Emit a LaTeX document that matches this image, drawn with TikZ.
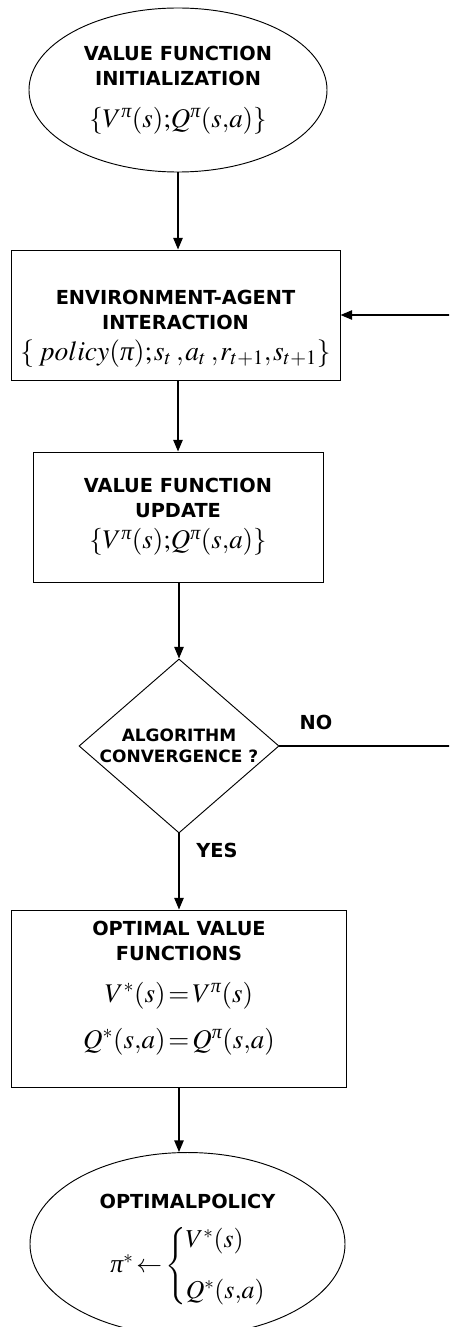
\documentclass[tikz,border=0pt]{standalone}
\usepackage{amsmath}
\usepackage{mathptmx}
\usepackage{fontspec}
\setsansfont{DejaVu Sans}
\newfontfamily\greekit{Liberation Serif}
\usetikzlibrary{shapes.geometric, arrows.meta, positioning}

\newcommand{\mathline}[2][23]{{\fontsize{#1}{#1}\selectfont
  $\thinmuskip=1mu\medmuskip=2mu\thickmuskip=2mu #2$}}
\newcommand{\ipi}{\text{\normalfont\greekit\itshape π}}

\tikzset{
  startstop/.style={draw, ellipse, line width=0.8pt, align=center, inner sep=0pt,
    font=\fontsize{16.5}{21}\selectfont\sffamily\bfseries},
  procbox/.style={draw, rectangle, line width=0.8pt, align=center, inner sep=0pt,
    font=\fontsize{16.5}{21}\selectfont\sffamily\bfseries},
  decide/.style={draw, diamond, line width=0.8pt, inner sep=0pt},
  diatext/.style={align=center, font=\fontsize{14.5}{17.5}\selectfont\sffamily\bfseries},
  branch/.style={font=\fontsize{16.5}{16.5}\selectfont\sffamily\bfseries},
  flowarrow/.style={line width=1.3pt, -{Triangle[length=10pt, width=8pt]}}
}

\begin{document}
\begin{tikzpicture}[x=0.03cm, y=-0.03cm]
  \clip (0,0) rectangle (449,1327);
  \fill[white] (0,0) rectangle (449,1327);

  % Initialization
  \node[startstop, minimum width=8.94cm, minimum height=4.92cm] (init) at (178,90)
    {VALUE FUNCTION\\INITIALIZATION\\[15pt]
     \mathline{\left\{V^{\ipi}(s){;}Q^{\ipi}(s{,}a)\right\}}};

  % Interaction with the environment
  \node[procbox, minimum width=9.87cm, minimum height=3.9cm] (env) at (175.5,315)
    {\mbox{}\\[15pt]ENVIRONMENT-AGENT\\INTERACTION\\[6pt]
     \mathline[23.5]{\left\{\mskip3mu policy(\ipi);s_t\mskip3mu,a_t\mskip3mu,r_{t+1},s_{t+1}\right\}}};

  % Update
  \node[procbox, minimum width=8.7cm, minimum height=3.9cm] (upd) at (178,517)
    {VALUE FUNCTION\\UPDATE\\[6pt]
     \mathline{\left\{V^{\ipi}(s){;}Q^{\ipi}(s{,}a)\right\}}};

  % Convergence test
  \node[decide, minimum width=6cm, minimum height=5.22cm,
    label={[diatext]center:ALGORITHM\\CONVERGENCE ?}] (dia) at (179,746) {};

  % Optimal value functions
  \node[procbox, minimum width=10.05cm, minimum height=5.31cm] (opt) at (179,998.5)
    {OPTIMAL VALUE\\FUNCTIONS\\[15pt]
     \mathline{V^{*}(s)=V^{\ipi}(s)}\\[15.5pt]
     \mathline{Q^{*}(s{,}a)=Q^{\ipi}(s{,}a)}\\[2pt]\mbox{}};

  % Optimal policy
  \node[startstop, minimum width=9.45cm, minimum height=4.86cm] (pol) at (187.5,1244)
    {\mbox{}\\[4pt]OPTIMALPOLICY\\[12pt]
     \mathline[22]{{\textstyle\ipi}^{*}\leftarrow\Bigg\{\renewcommand{\arraystretch}{1.3}
       \begin{array}{@{}l@{}}V^{*}(s)\\[15pt]Q^{*}(s{,}a)\end{array}}};

  % Connectors
  \draw[flowarrow] (init.south) -- (init.south |- env.north);
  \draw[flowarrow] (env.south -| upd.north) -- (upd.north);
  \draw[flowarrow] (upd.south -| dia.north) -- (dia.north);
  \draw[flowarrow] (dia.south) -- (dia.south |- opt.north);
  \draw[flowarrow] (opt.south) -- (opt.south |- pol.north);

  % Loop back when not converged
  \coordinate (back) at (470,0);
  \draw[flowarrow] (dia.east) -- (dia.east -| back) |- (env.east);
  \node[branch] (no) at (316,722) {NO};
  \node[branch] (yes) at (217,850) {YES};
\end{tikzpicture}
\end{document}
